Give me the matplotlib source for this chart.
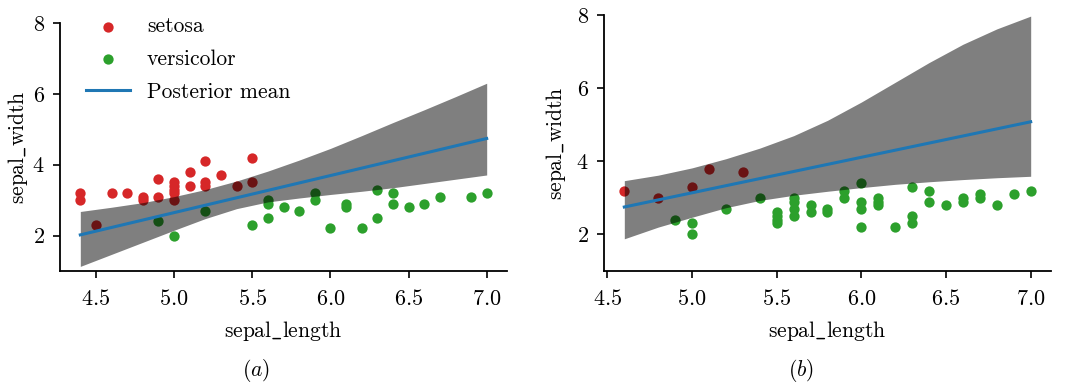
import matplotlib
matplotlib.use("Agg")
import matplotlib.pyplot as plt
import numpy as np

# ---------------- data (panel a) ----------------
a_setosa_x = [4.4, 4.4, 4.5, 4.6, 4.7, 4.8, 4.8, 4.9, 4.9, 5.0, 5.0, 5.0, 5.0, 5.0,
              5.1, 5.1, 5.2, 5.2, 5.2, 5.3, 5.4, 5.5, 5.5]
a_setosa_y = [3.2, 3.0, 2.3, 3.2, 3.2, 3.1, 3.0, 3.6, 3.1, 3.5, 3.4, 3.3, 3.2, 3.0,
              3.8, 3.4, 4.1, 3.5, 3.4, 3.7, 3.4, 4.2, 3.5]
a_versi_x = [4.9, 5.0, 5.2, 5.5, 5.6, 5.6, 5.6, 5.7, 5.8, 5.9, 5.9, 6.0, 6.1, 6.1,
             6.2, 6.3, 6.3, 6.4, 6.4, 6.5, 6.6, 6.7, 6.9, 7.0]
a_versi_y = [2.4, 2.0, 2.7, 2.3, 3.0, 2.9, 2.5, 2.8, 2.7, 3.2, 3.0, 2.2, 2.9, 2.8,
             2.2, 3.3, 2.5, 3.2, 2.9, 2.8, 2.9, 3.1, 3.1, 3.2]
a_mean_x = [4.4, 7.0]
a_mean_y = [2.02, 4.74]
a_band_x = [4.4, 4.6, 4.8, 5.0, 5.2, 5.4, 5.6, 5.8, 6.0, 6.2, 6.4, 6.6, 6.8, 7.0]
a_band_lo = [1.13, 1.47, 1.81, 2.15, 2.48, 2.76, 2.95, 3.06, 3.16, 3.25, 3.35, 3.47, 3.59, 3.71]
a_band_hi = [2.68, 2.80, 2.93, 3.10, 3.30, 3.54, 3.82, 4.13, 4.46, 4.82, 5.19, 5.55, 5.92, 6.30]

# ---------------- data (panel b) ----------------
b_setosa_x = [4.6, 4.8, 5.0, 5.1, 5.3]
b_setosa_y = [3.2, 3.0, 3.3, 3.8, 3.7]
b_versi_x = [4.9, 5.0, 5.0, 5.2, 5.4, 5.5, 5.5, 5.5, 5.5, 5.6, 5.6, 5.6, 5.6,
             5.7, 5.7, 5.8, 5.8, 5.9, 5.9, 6.0, 6.0, 6.0, 6.0, 6.1, 6.1, 6.1,
             6.2, 6.3, 6.3, 6.3, 6.4, 6.4, 6.5, 6.6, 6.6, 6.7, 6.7, 6.8, 6.9, 7.0]
b_versi_y = [2.4, 2.3, 2.0, 2.7, 3.0, 2.6, 2.5, 2.4, 2.3, 3.0, 2.9, 2.7, 2.5,
             2.8, 2.6, 2.7, 2.6, 3.2, 3.0, 3.4, 2.9, 2.7, 2.2, 3.0, 2.9, 2.8,
             2.2, 3.3, 2.5, 2.3, 3.2, 2.9, 2.8, 3.0, 2.9, 3.1, 3.0, 2.8, 3.1, 3.2]
b_mean_x = [4.6, 7.0]
b_mean_y = [2.75, 5.08]
b_band_x = [4.6, 4.8, 5.0, 5.2, 5.4, 5.6, 5.8, 6.0, 6.2, 6.4, 6.6, 6.8, 7.0]
b_band_lo = [1.88, 2.20, 2.47, 2.73, 2.93, 3.07, 3.18, 3.28, 3.37, 3.44, 3.50, 3.55, 3.59]
b_band_hi = [3.47, 3.62, 3.82, 4.07, 4.36, 4.70, 5.12, 5.62, 6.16, 6.70, 7.20, 7.62, 7.97]

xticks = [4.5, 5.0, 5.5, 6.0, 6.5, 7.0]
yticks = [2, 4, 6, 8]

plt.rcParams['font.family'] = 'serif'
plt.rcParams['font.serif'] = ['cmr10']
plt.rcParams['mathtext.fontset'] = 'cm'
plt.rcParams['axes.formatter.use_mathtext'] = True
plt.rcParams['axes.unicode_minus'] = False

FS_TICK = 16
FS = 15.5
fig = plt.figure(figsize=(10.76, 3.86), dpi=100)
ax_a = fig.add_axes([60 / 1076, 115 / 386, 447 / 1076, 248 / 386])
ax_b = fig.add_axes([604 / 1076, 115 / 386, 447 / 1076, 256 / 386])


def draw(ax, sx, sy, vx, vy, mx, my, bx, blo, bhi, legend, ypad):
    ax.scatter(sx, sy, s=55, color='#d62728', label='setosa', zorder=2, linewidths=0)
    ax.scatter(vx, vy, s=55, color='#2ca02c', label='versicolor', zorder=2, linewidths=0)
    ax.fill_between(bx, blo, bhi, color='k', alpha=0.5, linewidth=0, zorder=3)
    ax.plot(mx, my, color='#1f77b4', lw=2.2, label='Posterior mean', zorder=4)
    ax.set_ylim(1, 8)
    ax.set_xticks(xticks)
    ax.set_xticklabels([f'${t:.1f}$' for t in xticks])
    ax.set_yticks(yticks)
    ax.set_yticklabels([f'${t}$' for t in yticks])
    ax.tick_params(labelsize=FS_TICK, direction='out', length=5, width=1.2, pad=6)
    ax.tick_params(axis='x', pad=8)
    for s in ['top', 'right']:
        ax.spines[s].set_visible(False)
    for s in ['left', 'bottom']:
        ax.spines[s].set_linewidth(1.3)
    ax.set_xlabel(r'$\mathrm{sepal\_length}$', fontsize=FS, labelpad=7)
    ax.set_ylabel(r'$\mathrm{sepal\_width}$', fontsize=FS, labelpad=ypad)
    if legend:
        ax.legend(loc='upper left', frameon=False, fontsize=FS,
                  bbox_to_anchor=(0.04, 1.06), handlelength=2.0, borderaxespad=0,
                  labelspacing=0.62, handletextpad=0.8)


draw(ax_a, a_setosa_x, a_setosa_y, a_versi_x, a_versi_y, a_mean_x, a_mean_y,
     a_band_x, a_band_lo, a_band_hi, True, 2)
draw(ax_b, b_setosa_x, b_setosa_y, b_versi_x, b_versi_y, b_mean_x, b_mean_y,
     b_band_x, b_band_lo, b_band_hi, False, 6)
ax_a.set_xlim(4.27, 7.13)
ax_b.set_xlim(4.48, 7.12)

fig.text(256 / 1076, 1 - 371 / 386, r'$\mathit{(a)}$', ha='center', va='center', fontsize=FS)
fig.text(801 / 1076, 1 - 371 / 386, r'$\mathit{(b)}$', ha='center', va='center', fontsize=FS)

fig.savefig('out.png', dpi=100)
